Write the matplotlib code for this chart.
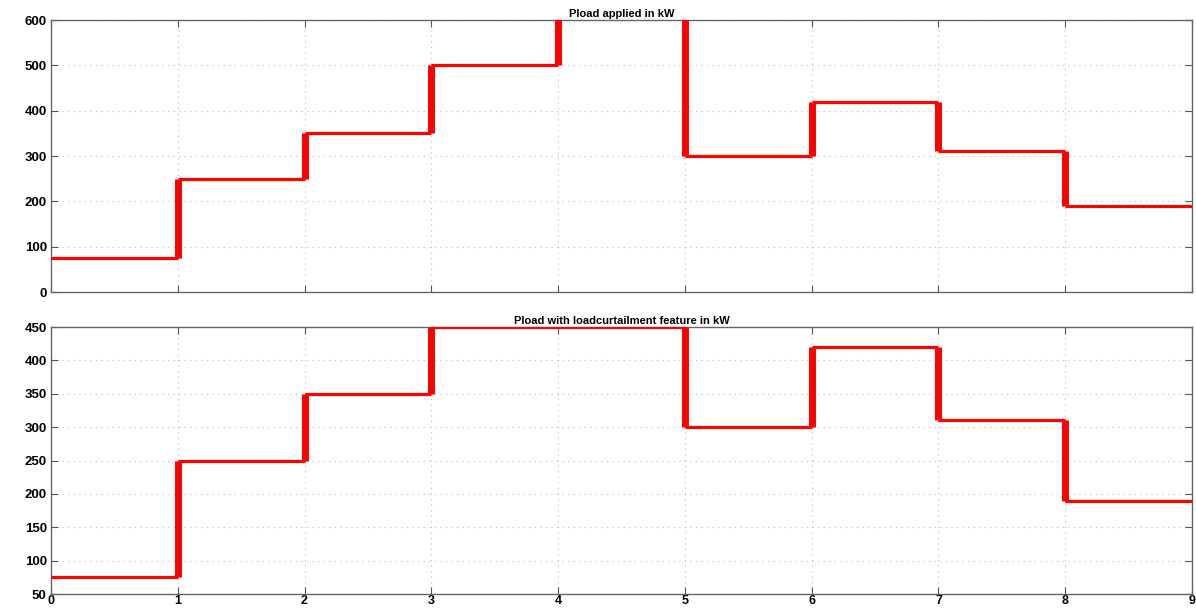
import matplotlib
matplotlib.use("Agg")
import matplotlib.pyplot as plt
import numpy as np

# Time (s) breakpoints and load levels per interval
t_edges = [0, 1, 2, 3, 4, 5, 6, 7, 8, 9]
pload_applied = [75, 250, 350, 500, 700, 300, 420, 310, 190]
pload_curtailed = [75, 250, 350, 450, 450, 300, 420, 310, 190]

top_yticks = [0, 100, 200, 300, 400, 500, 600]
bot_yticks = [50, 100, 150, 200, 250, 300, 350, 400, 450]
xticks = [0, 1, 2, 3, 4, 5, 6, 7, 8, 9]

plt.rcParams['font.family'] = ['Liberation Sans', 'DejaVu Sans']
plt.rcParams['font.weight'] = 'bold'

fig = plt.figure(figsize=(11.96, 6.10), dpi=100)
ax1 = fig.add_axes([0.0426, 0.5213, 0.9541, 0.4459])
ax2 = fig.add_axes([0.0426, 0.0262, 0.9541, 0.4377])


def draw_steps(ax, values, ylim, yticks, title, show_xlabels):
    vals = np.asarray(values, dtype=float)
    edges = np.asarray(t_edges, dtype=float)
    # horizontal segments
    ax.hlines(vals, edges[:-1], edges[1:], colors='#ff0000', lw=2.3, zorder=3)
    # vertical transitions
    ax.vlines(edges[1:-1], vals[:-1], vals[1:], colors='#ff0000', lw=5.0, zorder=3)
    ax.set_xlim(0, 9)
    ax.set_ylim(*ylim)
    ax.set_xticks(xticks)
    ax.set_yticks(yticks)
    ax.grid(True, linestyle=(0, (1, 4)), color='#bbbbbb', lw=0.8)
    ax.tick_params(direction='in', top=True, right=True, length=5,
                   color='#555555', labelsize=9.5, pad=3)
    ax.tick_params(axis='x', pad=1, labelsize=9)
    if not show_xlabels:
        ax.set_xticklabels([])
    for s in ax.spines.values():
        s.set_color('#666666')
        s.set_linewidth(1.0)
    ax.set_title(title, fontsize=8, fontweight='bold', pad=2)


draw_steps(ax1, pload_applied, (0, 600), top_yticks, 'Pload applied in kW', False)
draw_steps(ax2, pload_curtailed, (50, 450), bot_yticks,
           'Pload with loadcurtailment feature in kW', True)

fig.savefig('out.png', dpi=100)
